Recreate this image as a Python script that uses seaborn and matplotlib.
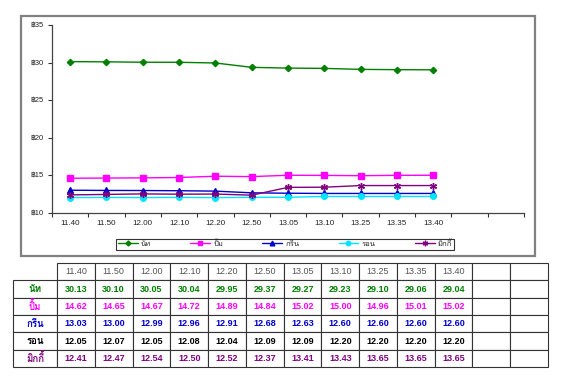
import matplotlib
matplotlib.use("Agg")
import matplotlib.pyplot as plt
from matplotlib.patches import Rectangle
from matplotlib import font_manager as fm
import seaborn as sns
import pandas as pd
import numpy as np

times = ["11.40", "11.50", "12.00", "12.10", "12.20", "12.50", "13.05", "13.10", "13.25", "13.35", "13.40", "", ""]
names = ["นัท", "ปิ้ม", "กรีน", "รอน", "มิกกี้"]
nat = [30.13, 30.10, 30.05, 30.04, 29.95, 29.37, 29.27, 29.23, 29.10, 29.06, 29.04]
pim = [14.62, 14.65, 14.67, 14.72, 14.89, 14.84, 15.02, 15.00, 14.96, 15.01, 15.02]
green = [13.03, 13.00, 12.99, 12.96, 12.91, 12.68, 12.63, 12.60, 12.60, 12.60, 12.60]
ron = [12.05, 12.07, 12.05, 12.08, 12.04, 12.09, 12.09, 12.20, 12.20, 12.20, 12.20]
mickey = [12.41, 12.47, 12.54, 12.50, 12.52, 12.37, 13.41, 13.43, 13.65, 13.65, 13.65]
yticks = [10, 15, 20, 25, 30, 35]

series = [nat, pim, green, ron, mickey]
colors = ["#008000", "#FF00FF", "#0000CC", "#00E5FF", "#800080"]
label_colors = ["#008000", "#FF00FF", "#0000CC", "#000000", "#800080"]
markers = ["D", "s", "^", "o", (6, 2, 0)]
msizes = [3.2, 4, 4.2, 4, 5]

sns.set_theme(style="white")

# find a font with Thai glyphs
thai_font = None
try:
    from fontTools.ttLib import TTFont
    for f in fm.fontManager.ttflist:
        try:
            tt = TTFont(f.fname, fontNumber=0, lazy=True)
            cmap = tt.getBestCmap()
            if cmap and 0x0E19 in cmap and 0x0E31 in cmap:
                thai_font = f.name
                break
        except Exception:
            pass
except Exception:
    pass
fams = ["Liberation Sans"] + ([thai_font] if thai_font else []) + ["DejaVu Sans"]
plt.rcParams["font.family"] = fams

W, H = 567, 378
fig = plt.figure(figsize=(W / 100, H / 100), dpi=100)
fig.patch.set_facecolor("white")

def fx(px):
    return px / W

def fy(py):
    return 1 - py / H

# chart frame
fig.add_artist(Rectangle((fx(21), fy(256)), fx(535) - fx(21), fy(16) - fy(256),
                         transform=fig.transFigure, fill=False, edgecolor="#808080", lw=1.6))

ax = fig.add_axes([fx(52), fy(213), fx(524) - fx(52), fy(25) - fy(213)])
rows = []
for nm, vals in zip(names, series):
    for i, v in enumerate(vals):
        rows.append({"name": nm, "x": i, "v": v})
df = pd.DataFrame(rows)
for nm, c, m, ms in zip(names, colors, markers, msizes):
    sns.lineplot(data=df[df["name"] == nm], x="x", y="v", ax=ax, color=c, marker=m,
                 markersize=ms, markeredgecolor=c, markeredgewidth=1.0, lw=1.0,
                 label=nm, legend=False)

ax.set_xlim(-0.5, len(times) - 0.5)
ax.set_ylim(10, 35)
ax.set_xticks(np.arange(-0.5, len(times), 1.0))
ax.set_xticklabels([])
ax.set_xticks(np.arange(len(times)), minor=True)
ax.set_xticklabels(times, minor=True, fontsize=5.8, color="#222222")
ax.tick_params(axis="x", which="major", bottom=True, direction="out", length=3, width=0.8, color="#333333")
ax.tick_params(axis="x", which="minor", bottom=True, length=0, pad=5)
ax.set_yticks(yticks)
ax.set_yticklabels(["฿%d" % t for t in yticks], fontsize=5.5, color="#222222")
ax.tick_params(axis="y", left=True, direction="out", length=3, width=0.8, color="#333333", pad=3)
ax.set_xlabel("")
ax.set_ylabel("")
ax.grid(False)
for s in ["top", "right"]:
    ax.spines[s].set_visible(False)
for s in ["left", "bottom"]:
    ax.spines[s].set_color("#444444")
    ax.spines[s].set_linewidth(0.9)
ax.patch.set_alpha(0)

handles, labels = ax.get_legend_handles_labels()
leg = fig.legend(handles, labels, ncol=5, loc="lower left",
                 bbox_to_anchor=(fx(116), fy(250), fx(454) - fx(116), fy(238) - fy(250)),
                 mode="expand", borderaxespad=0, fontsize=5.5, frameon=True, fancybox=False,
                 handlelength=2.6, handletextpad=0.4, borderpad=0.25, columnspacing=1.0,
                 markerscale=0.8)
leg.get_frame().set_edgecolor("#000000")
leg.get_frame().set_linewidth(0.8)

# table
tax = fig.add_axes([fx(13), fy(367), fx(548) - fx(13), fy(263) - fy(367)])
tax.axis("off")
cell_text = [[""] + times]
for vals in series:
    cell_text.append([""] + ["%.2f" % v for v in vals] + [""] * (len(times) - len(vals)))
for r, nm in enumerate(names):
    cell_text[r + 1][0] = nm
lab_w = 44.0
col_w = (535.0 - lab_w) / len(times)
widths = [lab_w / 535.0] + [col_w / 535.0] * len(times)
tbl = tax.table(cellText=cell_text, colWidths=widths, cellLoc="center", bbox=[0, 0, 1, 1])
tbl.auto_set_font_size(False)
for (r, c), cell in tbl.get_celld().items():
    cell.set_linewidth(0.8)
    cell.set_edgecolor("#333333")
    t = cell.get_text()
    t.set_fontsize(6.5)
    if r == 0:
        t.set_color("#555555")
        if c == 0:
            cell.set_edgecolor("white")
            cell.visible_edges = ""
    else:
        t.set_color(label_colors[r - 1])
        t.set_fontweight("bold")
        if c == 0:
            t.set_fontsize(7)

fig.savefig("out.png", dpi=100, facecolor="white")
